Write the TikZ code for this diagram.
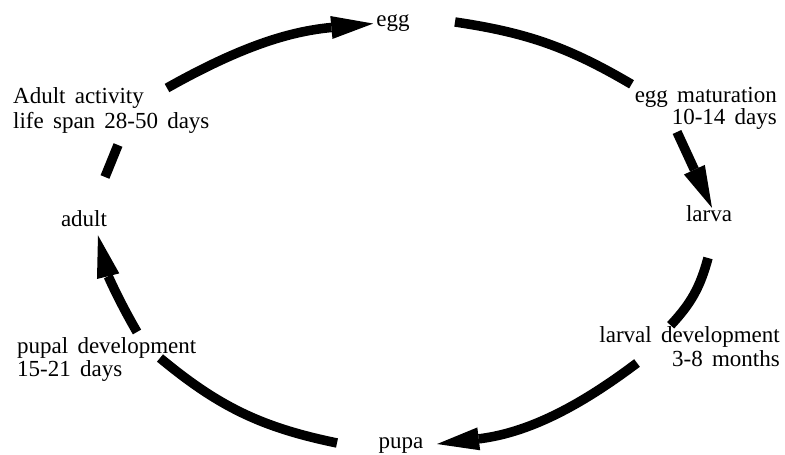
\documentclass[tikz,border=0pt]{standalone}
\usepackage{fontspec}
\setmainfont{Liberation Serif}[WordSpace=1.6]
\usetikzlibrary{arrows.meta}

\tikzset{
  lbl/.style={font=\fontsize{23}{24}\selectfont, inner sep=3pt},
  multilbl/.style={lbl, inner sep=0pt},
  cyc/.style={line width=9.5pt, line cap=butt},
  cycarrow/.style={cyc, -{Triangle[length=42pt,width=23pt,line width=0pt]}}
}

\begin{document}
\begin{tikzpicture}[x=1pt,y=1pt]
  \useasboundingbox (0,0) rectangle (785,455);

  % stage labels
  \node[lbl, anchor=base] (egg)   at (393,428) {egg};
  \node[lbl, anchor=base] (larva) at (709,233) {larva};
  \node[lbl, anchor=base] (pupa)  at (401,6)   {pupa};
  \node[lbl, anchor=base] (adult) at (84,228)  {adult};

  % duration labels
  \node[multilbl, anchor=north east, align=right, font=\fontsize{23}{21.5}\selectfont]
    (eggmat) at (777,367.7) {egg maturation\\10-14 days};
  \node[multilbl, anchor=north east, align=right]
    (larvdev) at (780,128.7) {larval development\\3-8 months};
  \node[multilbl, anchor=north west, align=left, font=\fontsize{23}{23}\selectfont]
    (pupdev) at (17,117.7) {pupal development\\15-21 days};
  \node[multilbl, anchor=north west, align=left, font=\fontsize{23}{25.5}\selectfont]
    (adultact) at (13,367.7) {Adult activity\\life span 28-50 days};

  % loose ends of the cycle segments
  \coordinate (c1) at (167,367);
  \coordinate (c2) at (455,433);
  \coordinate (c3) at (677,323);
  \coordinate (c4) at (708,197);
  \coordinate (c5) at (637,92);
  \coordinate (c6) at (337,12);
  \coordinate (c6e) at (160,97);
  \coordinate (c7) at (137,123);
  \coordinate (c8) at (105,278);
  \coordinate (c8e) at (118,310);

  % the cycle
  \draw[cycarrow] (c1) to[bend left=12] (egg.west);
  \draw[cyc] (c2) to[bend left=11] ([shift={(-3pt,3pt)}]eggmat.north west);
  \draw[cycarrow] (c3) -- ([shift={(3pt,-5pt)}]larva.north);
  \draw[cyc] (c4) to[bend left=14] ([shift={(-19pt,1pt)}]larvdev.north);
  \draw[cycarrow] (c5) to[bend left=15] ([shift={(10.5pt,2pt)}]pupa.east);
  \draw[cyc] (c6) to[bend left=14] (c6e);
  \draw[cycarrow] (c7) to[bend left=8] ([shift={(14pt,-5pt)}]adult.south);
  \draw[cyc] (c8) -- (c8e);
\end{tikzpicture}
\end{document}
